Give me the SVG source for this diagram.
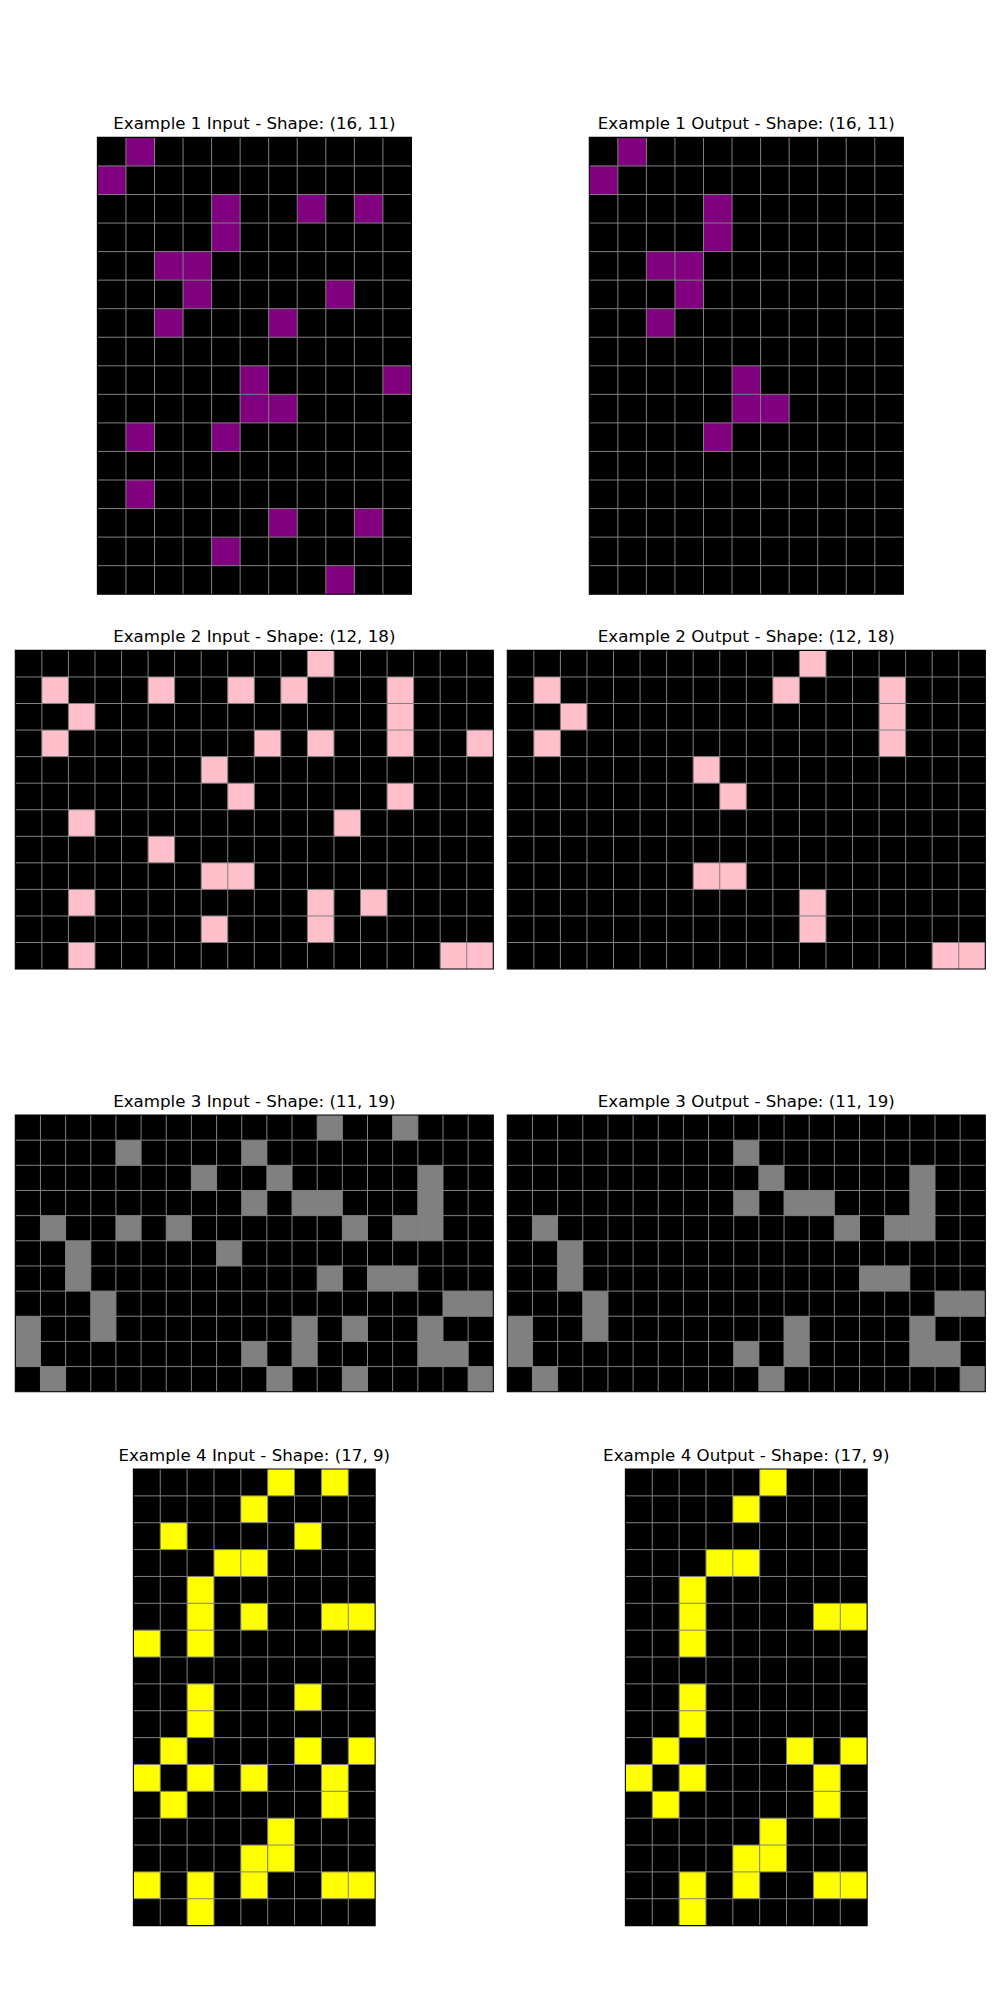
<svg xmlns="http://www.w3.org/2000/svg" xmlns:xlink="http://www.w3.org/1999/xlink" width="1000" height="2000" viewBox="0 0 1000 2000">
<style>
.title{font-family:"DejaVu Sans","Liberation Sans",sans-serif;font-size:16.67px;fill:#000;text-anchor:middle}
.bg{fill:#000}
.p{fill:#800080}
.k{fill:#ffc0cb}
.g{fill:#808080}
.y{fill:#ffff00}
.gl{fill:none;stroke:#808080;stroke-width:1;vector-effect:non-scaling-stroke}
.fr{fill:none;stroke:#000;stroke-width:1.1;vector-effect:non-scaling-stroke}
</style>
<defs>
<path id="l11x16" class="gl" d="M1 0V16M2 0V16M3 0V16M4 0V16M5 0V16M6 0V16M7 0V16M8 0V16M9 0V16M10 0V16M0 1H11M0 2H11M0 3H11M0 4H11M0 5H11M0 6H11M0 7H11M0 8H11M0 9H11M0 10H11M0 11H11M0 12H11M0 13H11M0 14H11M0 15H11"/>
<path id="l18x12" class="gl" d="M1 0V12M2 0V12M3 0V12M4 0V12M5 0V12M6 0V12M7 0V12M8 0V12M9 0V12M10 0V12M11 0V12M12 0V12M13 0V12M14 0V12M15 0V12M16 0V12M17 0V12M0 1H18M0 2H18M0 3H18M0 4H18M0 5H18M0 6H18M0 7H18M0 8H18M0 9H18M0 10H18M0 11H18"/>
<path id="l19x11" class="gl" d="M1 0V11M2 0V11M3 0V11M4 0V11M5 0V11M6 0V11M7 0V11M8 0V11M9 0V11M10 0V11M11 0V11M12 0V11M13 0V11M14 0V11M15 0V11M16 0V11M17 0V11M18 0V11M0 1H19M0 2H19M0 3H19M0 4H19M0 5H19M0 6H19M0 7H19M0 8H19M0 9H19M0 10H19"/>
<path id="l9x17" class="gl" d="M1 0V17M2 0V17M3 0V17M4 0V17M5 0V17M6 0V17M7 0V17M8 0V17M0 1H9M0 2H9M0 3H9M0 4H9M0 5H9M0 6H9M0 7H9M0 8H9M0 9H9M0 10H9M0 11H9M0 12H9M0 13H9M0 14H9M0 15H9M0 16H9"/>
</defs>
<rect width="1000" height="2000" fill="#fff"/>

<g id="ex1-input">
<text class="title" x="254.4" y="129">Example 1 Input - Shape: (16, 11)</text>
<g transform="translate(97.4 137.4) scale(28.55)">
<rect class="bg" width="11" height="16"/>
<g class="p">
<rect x="1" y="0" width="1" height="1"/><rect x="0" y="1" width="1" height="1"/>
<rect x="4" y="2" width="1" height="1"/><rect x="7" y="2" width="1" height="1"/><rect x="9" y="2" width="1" height="1"/>
<rect x="4" y="3" width="1" height="1"/>
<rect x="2" y="4" width="2" height="1"/>
<rect x="3" y="5" width="1" height="1"/><rect x="8" y="5" width="1" height="1"/>
<rect x="2" y="6" width="1" height="1"/><rect x="6" y="6" width="1" height="1"/>
<rect x="5" y="8" width="1" height="1"/><rect x="10" y="8" width="1" height="1"/>
<rect x="5" y="9" width="2" height="1"/>
<rect x="1" y="10" width="1" height="1"/><rect x="4" y="10" width="1" height="1"/>
<rect x="1" y="12" width="1" height="1"/>
<rect x="6" y="13" width="1" height="1"/><rect x="9" y="13" width="1" height="1"/>
<rect x="4" y="14" width="1" height="1"/>
<rect x="8" y="15" width="1" height="1"/>
</g>
<use xlink:href="#l11x16"/>
<rect class="fr" width="11" height="16"/>
</g>
</g>

<g id="ex1-output">
<text class="title" x="746.3" y="129">Example 1 Output - Shape: (16, 11)</text>
<g transform="translate(589.3 137.4) scale(28.55)">
<rect class="bg" width="11" height="16"/>
<g class="p">
<rect x="1" y="0" width="1" height="1"/><rect x="0" y="1" width="1" height="1"/>
<rect x="4" y="2" width="1" height="2"/>
<rect x="2" y="4" width="2" height="1"/>
<rect x="3" y="5" width="1" height="1"/>
<rect x="2" y="6" width="1" height="1"/>
<rect x="5" y="8" width="1" height="1"/>
<rect x="5" y="9" width="2" height="1"/>
<rect x="4" y="10" width="1" height="1"/>
</g>
<use xlink:href="#l11x16"/>
<rect class="fr" width="11" height="16"/>
</g>
</g>

<g id="ex2-input">
<text class="title" x="254.3" y="642.2">Example 2 Input - Shape: (12, 18)</text>
<g transform="translate(15.3 650.4) scale(26.556)">
<rect class="bg" width="18" height="12"/>
<g class="k">
<rect x="11" y="0" width="1" height="1"/>
<rect x="1" y="1" width="1" height="1"/><rect x="5" y="1" width="1" height="1"/><rect x="8" y="1" width="1" height="1"/><rect x="10" y="1" width="1" height="1"/><rect x="14" y="1" width="1" height="3"/>
<rect x="2" y="2" width="1" height="1"/>
<rect x="1" y="3" width="1" height="1"/><rect x="9" y="3" width="1" height="1"/><rect x="11" y="3" width="1" height="1"/><rect x="17" y="3" width="1" height="1"/>
<rect x="7" y="4" width="1" height="1"/>
<rect x="8" y="5" width="1" height="1"/><rect x="14" y="5" width="1" height="1"/>
<rect x="2" y="6" width="1" height="1"/><rect x="12" y="6" width="1" height="1"/>
<rect x="5" y="7" width="1" height="1"/>
<rect x="7" y="8" width="2" height="1"/>
<rect x="2" y="9" width="1" height="1"/><rect x="11" y="9" width="1" height="2"/><rect x="13" y="9" width="1" height="1"/>
<rect x="7" y="10" width="1" height="1"/>
<rect x="2" y="11" width="1" height="1"/><rect x="16" y="11" width="2" height="1"/>
</g>
<use xlink:href="#l18x12"/>
<rect class="fr" width="18" height="12"/>
</g>
</g>

<g id="ex2-output">
<text class="title" x="746.3" y="642.2">Example 2 Output - Shape: (12, 18)</text>
<g transform="translate(507.3 650.4) scale(26.556)">
<rect class="bg" width="18" height="12"/>
<g class="k">
<rect x="11" y="0" width="1" height="1"/>
<rect x="1" y="1" width="1" height="1"/><rect x="10" y="1" width="1" height="1"/><rect x="14" y="1" width="1" height="3"/>
<rect x="2" y="2" width="1" height="1"/>
<rect x="1" y="3" width="1" height="1"/>
<rect x="7" y="4" width="1" height="1"/>
<rect x="8" y="5" width="1" height="1"/>
<rect x="7" y="8" width="2" height="1"/>
<rect x="11" y="9" width="1" height="2"/>
<rect x="16" y="11" width="2" height="1"/>
</g>
<use xlink:href="#l18x12"/>
<rect class="fr" width="18" height="12"/>
</g>
</g>

<g id="ex3-input">
<text class="title" x="254.3" y="1106.7">Example 3 Input - Shape: (11, 19)</text>
<g transform="translate(15.3 1115) scale(25.158)">
<rect class="bg" width="19" height="11"/>
<g class="g">
<rect x="12" y="0" width="1" height="1"/><rect x="15" y="0" width="1" height="1"/>
<rect x="4" y="1" width="1" height="1"/><rect x="9" y="1" width="1" height="1"/>
<rect x="7" y="2" width="1" height="1"/><rect x="10" y="2" width="1" height="1"/><rect x="16" y="2" width="1" height="3"/>
<rect x="9" y="3" width="1" height="1"/><rect x="11" y="3" width="2" height="1"/>
<rect x="1" y="4" width="1" height="1"/><rect x="4" y="4" width="1" height="1"/><rect x="6" y="4" width="1" height="1"/><rect x="13" y="4" width="1" height="1"/><rect x="15" y="4" width="1" height="1"/>
<rect x="2" y="5" width="1" height="2"/><rect x="8" y="5" width="1" height="1"/>
<rect x="12" y="6" width="1" height="1"/><rect x="14" y="6" width="2" height="1"/>
<rect x="3" y="7" width="1" height="2"/><rect x="17" y="7" width="2" height="1"/>
<rect x="0" y="8" width="1" height="2"/><rect x="11" y="8" width="1" height="2"/><rect x="13" y="8" width="1" height="1"/><rect x="16" y="8" width="1" height="2"/>
<rect x="9" y="9" width="1" height="1"/><rect x="17" y="9" width="1" height="1"/>
<rect x="1" y="10" width="1" height="1"/><rect x="10" y="10" width="1" height="1"/><rect x="13" y="10" width="1" height="1"/><rect x="18" y="10" width="1" height="1"/>
</g>
<use xlink:href="#l19x11"/>
<rect class="fr" width="19" height="11"/>
</g>
</g>

<g id="ex3-output">
<text class="title" x="746.3" y="1106.7">Example 3 Output - Shape: (11, 19)</text>
<g transform="translate(507.3 1115) scale(25.158)">
<rect class="bg" width="19" height="11"/>
<g class="g">
<rect x="9" y="1" width="1" height="1"/>
<rect x="10" y="2" width="1" height="1"/><rect x="16" y="2" width="1" height="3"/>
<rect x="9" y="3" width="1" height="1"/><rect x="11" y="3" width="2" height="1"/>
<rect x="1" y="4" width="1" height="1"/><rect x="13" y="4" width="1" height="1"/><rect x="15" y="4" width="1" height="1"/>
<rect x="2" y="5" width="1" height="2"/>
<rect x="14" y="6" width="2" height="1"/>
<rect x="3" y="7" width="1" height="2"/><rect x="17" y="7" width="2" height="1"/>
<rect x="0" y="8" width="1" height="2"/><rect x="11" y="8" width="1" height="2"/><rect x="16" y="8" width="1" height="2"/>
<rect x="9" y="9" width="1" height="1"/><rect x="17" y="9" width="1" height="1"/>
<rect x="1" y="10" width="1" height="1"/><rect x="10" y="10" width="1" height="1"/><rect x="18" y="10" width="1" height="1"/>
</g>
<use xlink:href="#l19x11"/>
<rect class="fr" width="19" height="11"/>
</g>
</g>

<g id="ex4-input">
<text class="title" x="254.3" y="1460.7">Example 4 Input - Shape: (17, 9)</text>
<g transform="translate(133.4 1469) scale(26.86)">
<rect class="bg" width="9" height="17"/>
<g class="y">
<rect x="5" y="0" width="1" height="1"/><rect x="7" y="0" width="1" height="1"/>
<rect x="4" y="1" width="1" height="1"/>
<rect x="1" y="2" width="1" height="1"/><rect x="6" y="2" width="1" height="1"/>
<rect x="3" y="3" width="2" height="1"/>
<rect x="2" y="4" width="1" height="3"/>
<rect x="4" y="5" width="1" height="1"/><rect x="7" y="5" width="2" height="1"/>
<rect x="0" y="6" width="1" height="1"/>
<rect x="2" y="8" width="1" height="2"/><rect x="6" y="8" width="1" height="1"/>
<rect x="1" y="10" width="1" height="1"/><rect x="6" y="10" width="1" height="1"/><rect x="8" y="10" width="1" height="1"/>
<rect x="0" y="11" width="1" height="1"/><rect x="2" y="11" width="1" height="1"/><rect x="4" y="11" width="1" height="1"/><rect x="7" y="11" width="1" height="2"/>
<rect x="1" y="12" width="1" height="1"/>
<rect x="5" y="13" width="1" height="2"/>
<rect x="4" y="14" width="1" height="2"/>
<rect x="0" y="15" width="1" height="1"/><rect x="2" y="15" width="1" height="2"/><rect x="7" y="15" width="2" height="1"/>
</g>
<use xlink:href="#l9x17"/>
<rect class="fr" width="9" height="17"/>
</g>
</g>

<g id="ex4-output">
<text class="title" x="746.3" y="1460.7">Example 4 Output - Shape: (17, 9)</text>
<g transform="translate(625.4 1469) scale(26.86)">
<rect class="bg" width="9" height="17"/>
<g class="y">
<rect x="5" y="0" width="1" height="1"/>
<rect x="4" y="1" width="1" height="1"/>
<rect x="3" y="3" width="2" height="1"/>
<rect x="2" y="4" width="1" height="3"/>
<rect x="7" y="5" width="2" height="1"/>
<rect x="2" y="8" width="1" height="2"/>
<rect x="1" y="10" width="1" height="1"/><rect x="6" y="10" width="1" height="1"/><rect x="8" y="10" width="1" height="1"/>
<rect x="0" y="11" width="1" height="1"/><rect x="2" y="11" width="1" height="1"/><rect x="7" y="11" width="1" height="2"/>
<rect x="1" y="12" width="1" height="1"/>
<rect x="5" y="13" width="1" height="2"/>
<rect x="4" y="14" width="1" height="2"/>
<rect x="2" y="15" width="1" height="2"/><rect x="7" y="15" width="2" height="1"/>
</g>
<use xlink:href="#l9x17"/>
<rect class="fr" width="9" height="17"/>
</g>
</g>
</svg>
